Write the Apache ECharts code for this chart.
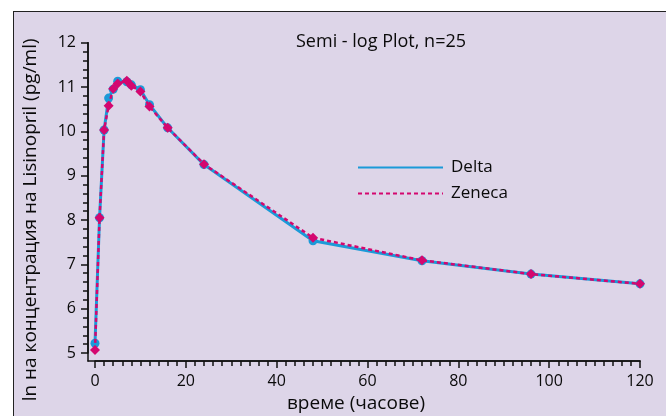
<!DOCTYPE html>
<html><head><meta charset="utf-8">
<script src="https://cdn.jsdelivr.net/npm/echarts@6/dist/echarts.min.js"></script>
<style>
html,body{margin:0;padding:0;background:#fff;overflow:hidden}
#wrap{position:relative;width:666px;height:416px;overflow:hidden;background:#fff}
#frame{position:absolute;left:13px;top:11px;width:700px;height:500px;background:#ddd5e8;border:1px solid #222;box-sizing:border-box}
#c{position:absolute;left:0;top:0;width:666px;height:416px}
</style>
</head><body><div id="wrap"><div id="frame"></div><div id="c"></div></div>
<script>
const times  = [0, 1, 2, 3, 4, 5, 7, 8, 10, 12, 16, 24, 48, 72, 96, 120];
const delta  = [5.22, 8.05, 10.03, 10.75, 10.95, 11.13, 11.12, 11.05, 10.94, 10.60, 10.08, 9.25, 7.53, 7.08, 6.78, 6.56];
const zeneca = [5.07, 8.05, 10.03, 10.58, 10.96, 11.08, 11.14, 11.03, 10.90, 10.56, 10.08, 9.26, 7.60, 7.09, 6.78, 6.56];

const FONT = 'Open Sans';
const BLUE = '#1b9ad8';
const PINK = '#d4076f';
const AX = '#111111';
const TXT = '#0a0a0a';

const chart = echarts.init(document.getElementById('c'), null, {renderer: 'canvas'});
chart.setOption({
  animation: false,
  backgroundColor: 'transparent',
  textStyle: {fontFamily: FONT},
  title: {
    text: 'Semi - log Plot, n=25', left: 381, top: 33, textAlign: 'center', padding: 0,
    textStyle: {fontSize: 18, fontWeight: 'normal', color: TXT, fontFamily: FONT}
  },
  grid: [
    {left: 95, right: 26, top: 42.7, bottom: 63, containLabel: false, outerBoundsMode: 'none'},
    {left: 88, right: 26, top: 42.7, bottom: 55, containLabel: false, outerBoundsMode: 'none'}
  ],
  legend: {
    orient: 'vertical', left: 357, top: 159, padding: 0, itemWidth: 85, itemHeight: 14, itemGap: 9,
    itemStyle: {opacity: 0},
    textStyle: {fontSize: 17, color: TXT, fontFamily: FONT, lineHeight: 14, padding: [0, 0, 0, 3]},
    data: ['Delta', 'Zeneca']
  },
  xAxis: [
    {type: 'value', gridIndex: 0, min: 0, max: 120, interval: 20, offset: 8,
     axisLine: {show: true, onZero: false, lineStyle: {color: AX, width: 1.5}},
     axisTick: {show: true, inside: false, length: 7, lineStyle: {color: AX, width: 1.5, opacity: 1}},
     minorTick: {show: true, splitNumber: 10, length: 5, lineStyle: {color: AX, width: 1.5, opacity: 1}},
     axisLabel: {margin: 12, fontSize: 16, color: TXT, fontFamily: FONT},
     splitLine: {show: false}, minorSplitLine: {show: false},
     name: 'време (часове)', nameLocation: 'middle', nameGap: 33,
     nameTextStyle: {fontSize: 19, color: TXT, fontFamily: FONT, padding: [0, 23, 0, 0]}},
    {type: 'value', gridIndex: 1, min: 0, max: 1,
     axisLine: {show: true, onZero: false, lineStyle: {color: AX, width: 1.5}},
     axisTick: {show: false}, axisLabel: {show: false}, splitLine: {show: false}}
  ],
  yAxis: [
    {type: 'value', gridIndex: 0, min: 5, max: 12, interval: 1, offset: 7,
     axisLine: {show: true, onZero: false, lineStyle: {color: AX, width: 1.5}},
     axisTick: {show: true, inside: false, length: 7, lineStyle: {color: AX, width: 1.5, opacity: 1}},
     minorTick: {show: true, splitNumber: 5, length: 5, lineStyle: {color: AX, width: 1.5, opacity: 1}},
     axisLabel: {margin: 12, fontSize: 16, color: TXT, fontFamily: FONT},
     splitLine: {show: false}, minorSplitLine: {show: false},
     name: 'ln на концентрация на Lisinopril (pg/ml)', nameLocation: 'middle', nameGap: 48,
     nameTextStyle: {fontSize: 19, color: TXT, fontFamily: FONT, padding: [0, 44, 0, 0]}},
    {type: 'value', gridIndex: 1, min: 0, max: 1,
     axisLine: {show: true, onZero: false, lineStyle: {color: AX, width: 1.5}},
     axisTick: {show: false}, axisLabel: {show: false}, splitLine: {show: false}}
  ],
  series: [
    {type: 'line', name: 'Delta', xAxisIndex: 0, yAxisIndex: 0,
     data: times.map((t, i) => [t, delta[i]]),
     symbol: 'circle', symbolSize: 9,
     itemStyle: {color: BLUE}, lineStyle: {color: BLUE, width: 3}, z: 2},
    {type: 'line', name: 'Zeneca', xAxisIndex: 0, yAxisIndex: 0,
     data: times.map((t, i) => [t, zeneca[i]]),
     symbol: 'diamond', symbolSize: 10,
     itemStyle: {color: PINK}, lineStyle: {color: PINK, width: 2.5, type: [4, 3]}, z: 3}
  ]
});
</script></body></html>
